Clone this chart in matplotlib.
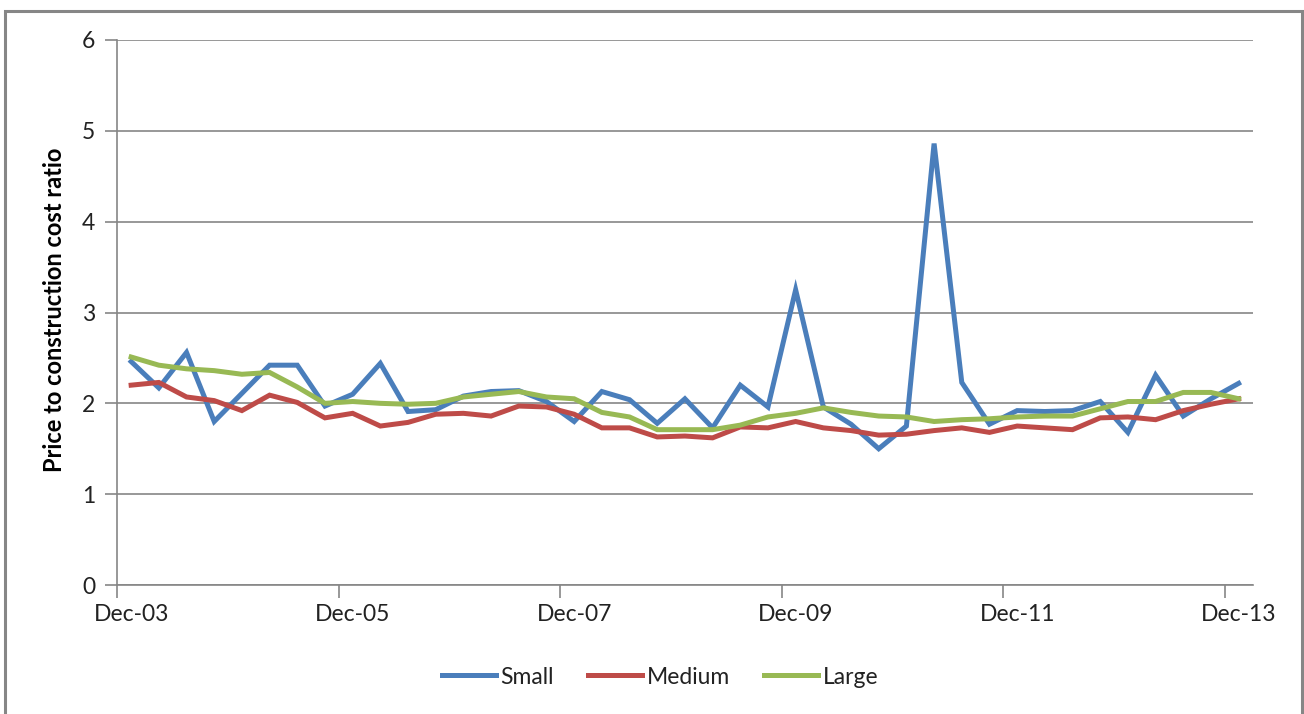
import matplotlib
matplotlib.use("Agg")
import matplotlib.pyplot as plt
from matplotlib.patches import Rectangle
import pandas as pd

# Quarterly observations, Dec-03 through Dec-13
quarters = pd.date_range("2003-12-01", "2013-12-01", freq="3MS").strftime("%b-%y").tolist()

small = [2.46, 2.17, 2.56, 1.80, 2.11, 2.42, 2.42, 1.97, 2.10, 2.44,
         1.91, 1.93, 2.08, 2.13, 2.14, 2.02, 1.80, 2.13, 2.04, 1.78,
         2.05, 1.73, 2.20, 1.96, 3.25, 1.96, 1.77, 1.50, 1.75, 4.86,
         2.23, 1.77, 1.92, 1.91, 1.92, 2.02, 1.68, 2.31, 1.86, 2.05,
         2.22]
medium = [2.20, 2.23, 2.07, 2.03, 1.92, 2.09, 2.01, 1.84, 1.89, 1.75,
          1.79, 1.88, 1.89, 1.86, 1.97, 1.96, 1.88, 1.73, 1.73, 1.63,
          1.64, 1.62, 1.74, 1.73, 1.80, 1.73, 1.70, 1.65, 1.66, 1.70,
          1.73, 1.68, 1.75, 1.73, 1.71, 1.84, 1.85, 1.82, 1.92, 1.99,
          2.05]
large = [2.51, 2.42, 2.38, 2.36, 2.32, 2.34, 2.18, 2.00, 2.02, 2.00,
         1.99, 2.00, 2.07, 2.10, 2.13, 2.07, 2.05, 1.90, 1.85, 1.71,
         1.71, 1.71, 1.76, 1.85, 1.89, 1.95, 1.90, 1.86, 1.85, 1.80,
         1.82, 1.83, 1.85, 1.86, 1.86, 1.94, 2.02, 2.02, 2.12, 2.12,
         2.05]

series_names = ["Small", "Medium", "Large"]
colors = ["#4A7EBB", "#BE4B48", "#98B954"]
y_ticks = [0, 1, 2, 3, 4, 5, 6]
label_every = 8

plt.rcParams["font.family"] = ["Lato", "DejaVu Sans"]
GRAY = "#868686"

fig = plt.figure(figsize=(13.04, 7.14), dpi=100)
ax = fig.add_axes([117.3 / 1304, 1 - 585 / 714, (1252.5 - 117.3) / 1304, (585 - 40) / 714])

x = list(range(len(quarters)))
for vals, name, col in zip([small, medium, large], series_names, colors):
    ax.plot(x, vals, color=col, lw=3.6, label=name, solid_joinstyle="miter", zorder=3)

ax.set_xlim(-0.5, len(quarters) - 0.5)
ax.set_ylim(min(y_ticks), max(y_ticks))

# y axis
ax.set_yticks(y_ticks)
ax.set_yticklabels([str(v) for v in y_ticks])
ax.yaxis.grid(True, color=GRAY, lw=1.2)
ax.tick_params(axis="y", length=9, width=1.2, color=GRAY, labelsize=16.5, pad=7, labelcolor="#222222")

# x axis: tick marks between category groups, labels on group starts
ax.set_xticks([i - 0.5 for i in range(0, len(quarters), label_every)])
ax.set_xticklabels([])
ax.tick_params(axis="x", which="major", length=9, width=1.2, color=GRAY, direction="out")
ax.set_xticks(list(range(0, len(quarters), label_every)), minor=True)
ax.set_xticklabels(quarters[::label_every], minor=True)
ax.tick_params(axis="x", which="minor", length=0, labelsize=16.5, pad=14, labelcolor="#222222")

for side in ["top", "right"]:
    ax.spines[side].set_visible(False)
for side in ["left", "bottom"]:
    ax.spines[side].set_color(GRAY)
    ax.spines[side].set_linewidth(1.2)
ax.set_axisbelow(True)

ax.set_ylabel("Price to construction cost ratio", fontsize=17, fontweight="bold", va="center")
ax.yaxis.set_label_coords(-0.0549, 0.505)

leg = fig.legend(loc="center", bbox_to_anchor=(660 / 1304, 1 - 677 / 714), ncol=3, frameon=False,
                 fontsize=16.5, handlelength=2.35, handletextpad=0.2, columnspacing=1.5)
for t in leg.get_texts():
    t.set_color("#222222")

# chart border
fig.patches.append(Rectangle((5 / 1304, -0.05), (1301.5 - 5) / 1304, 1.05 - 10.5 / 714,
                             transform=fig.transFigure, fill=False, edgecolor=GRAY, lw=2.2))

fig.savefig("out.png", dpi=100, facecolor="white")
